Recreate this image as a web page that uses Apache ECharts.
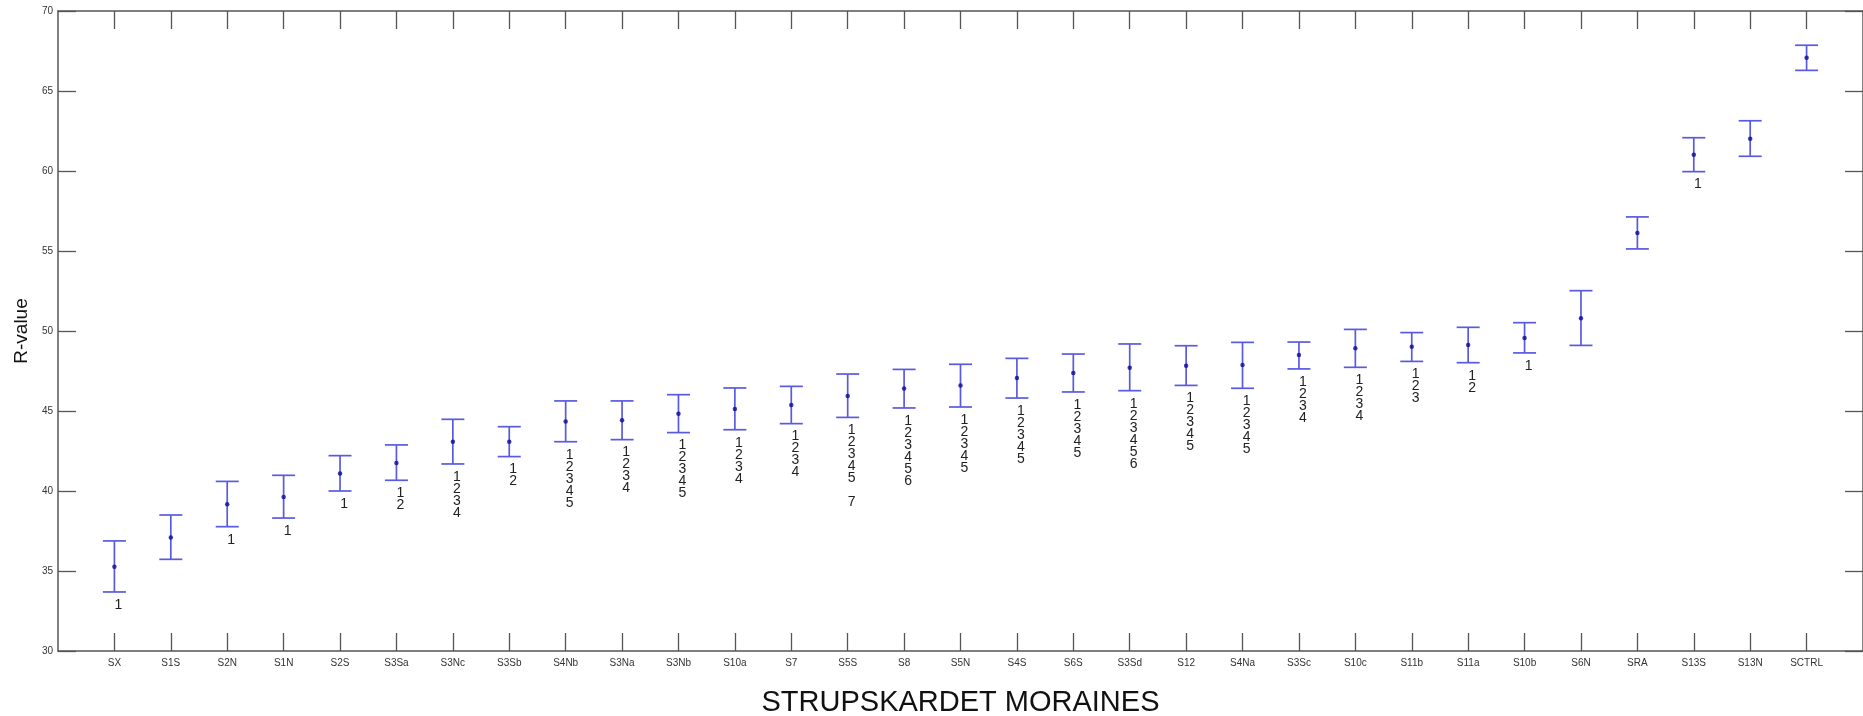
<!DOCTYPE html>
<html>
<head>
<meta charset="utf-8">
<script src="https://cdn.jsdelivr.net/npm/echarts@6/dist/echarts.min.js"></script>
<style>
html,body{margin:0;padding:0;background:#fff;}
#chart{width:1863px;height:716px;}
</style>
</head>
<body>
<div id="chart"></div>
<script>
const categories = ['SX','S1S','S2N','S1N','S2S','S3Sa','S3Nc','S3Sb','S4Nb','S3Na','S3Nb','S10a','S7','S5S','S8','S5N','S4S','S6S','S3Sd','S12','S4Na','S3Sc','S10c','S11b','S11a','S10b','S6N','SRA','S13S','S13N','SCTRL'];
const means = [35.27,37.10,39.17,39.63,41.10,41.75,43.08,43.08,44.35,44.42,44.83,45.13,45.38,45.94,46.40,46.60,47.06,47.38,47.71,47.83,47.88,48.50,48.92,49.02,49.13,49.56,50.80,56.13,61.02,62.02,67.08];
const lows = [33.69,35.73,37.77,38.31,40.00,40.67,41.69,42.15,43.08,43.21,43.65,43.83,44.21,44.60,45.19,45.25,45.81,46.19,46.27,46.60,46.42,47.63,47.73,48.10,48.02,48.63,49.10,55.13,59.96,60.92,66.29];
const highs = [36.88,38.50,40.60,40.98,42.21,42.88,44.48,44.02,45.63,45.63,46.02,46.44,46.54,47.31,47.60,47.92,48.29,48.56,49.19,49.08,49.29,49.31,50.10,49.90,50.23,50.52,52.52,57.13,62.08,63.14,67.86];
const letters = ['1','','1','1','1','1\n2','1\n2\n3\n4','1\n2','1\n2\n3\n4\n5','1\n2\n3\n4','1\n2\n3\n4\n5','1\n2\n3\n4','1\n2\n3\n4','1\n2\n3\n4\n5\n\n7','1\n2\n3\n4\n5\n6','1\n2\n3\n4\n5','1\n2\n3\n4\n5','1\n2\n3\n4\n5','1\n2\n3\n4\n5\n6','1\n2\n3\n4\n5','1\n2\n3\n4\n5','1\n2\n3\n4','1\n2\n3\n4','1\n2\n3','1\n2','1','','','1','',''];
const yMin = 30, yMax = 70, yStep = 5;

const axisCats = [''].concat(categories, ['']);
const barColor = '#5a5ae0';
const axisColor = '#555';

const chart = echarts.init(document.getElementById('chart'), null, {renderer: 'canvas'});

const tickInterval = function (idx, val) { return val !== ''; };

chart.setOption({
  animation: false,
  backgroundColor: '#fff',
  grid: {left: 58, right: 0, top: 11, height: 640, containLabel: false, outerBoundsMode: 'none'},
  xAxis: [{
    type: 'category',
    data: axisCats,
    boundaryGap: false,
    position: 'bottom',
    axisLine: {show: true, lineStyle: {color: axisColor, width: 1.5}},
    axisTick: {show: true, inside: true, length: 18, interval: tickInterval, lineStyle: {color: axisColor, width: 1.3}},
    axisLabel: {interval: 0, margin: 7, fontSize: 10, color: '#333', fontFamily: 'Liberation Sans, Arial, sans-serif'},
    splitLine: {show: false},
    name: 'STRUPSKARDET MORAINES',
    nameLocation: 'middle',
    nameGap: 37,
    nameTextStyle: {fontSize: 29, color: '#111', fontFamily: 'Liberation Sans, Arial, sans-serif'}
  }, {
    type: 'category',
    data: axisCats,
    boundaryGap: false,
    position: 'top',
    axisLine: {show: true, lineStyle: {color: axisColor, width: 1.5}},
    axisTick: {show: true, inside: true, length: 18, interval: tickInterval, lineStyle: {color: axisColor, width: 1.3}},
    axisLabel: {show: false},
    splitLine: {show: false}
  }],
  yAxis: [{
    type: 'value',
    min: yMin, max: yMax, interval: yStep,
    position: 'left',
    axisLine: {show: true, lineStyle: {color: axisColor, width: 1.5}},
    axisTick: {show: true, inside: true, length: 18, lineStyle: {color: axisColor, width: 1.3}},
    axisLabel: {margin: 5, fontSize: 10, color: '#333', fontFamily: 'Liberation Sans, Arial, sans-serif'},
    splitLine: {show: false},
    name: 'R-value',
    nameLocation: 'middle',
    nameGap: 23,
    nameTextStyle: {fontSize: 19, color: '#111', fontFamily: 'Liberation Sans, Arial, sans-serif'}
  }, {
    type: 'value',
    min: yMin, max: yMax, interval: yStep,
    position: 'right',
    axisLine: {show: true, lineStyle: {color: axisColor, width: 1.5}},
    axisTick: {show: true, inside: true, length: 18, lineStyle: {color: axisColor, width: 1.3}},
    axisLabel: {show: false},
    splitLine: {show: false}
  }],
  series: [{
    type: 'custom',
    xAxisIndex: 0, yAxisIndex: 0,
    data: categories.map((c, i) => [i + 1, lows[i], highs[i]]),
    encode: {x: 0, y: [1, 2]},
    renderItem: function (params, api) {
      const xi = api.value(0);
      const lo = api.coord([xi, api.value(1)]);
      const hi = api.coord([xi, api.value(2)]);
      const hw = 11.5;
      const style = {stroke: barColor, lineWidth: 1.7, fill: null};
      const children = [
        {type: 'line', shape: {x1: lo[0], y1: lo[1], x2: hi[0], y2: hi[1]}, style: style},
        {type: 'line', shape: {x1: lo[0] - hw, y1: lo[1], x2: lo[0] + hw, y2: lo[1]}, style: style},
        {type: 'line', shape: {x1: hi[0] - hw, y1: hi[1], x2: hi[0] + hw, y2: hi[1]}, style: style}
      ];
      const txt = letters[params.dataIndex];
      if (txt) {
        children.push({
          type: 'text',
          style: {
            text: txt, x: lo[0] + 4, y: lo[1] + 7,
            align: 'center', verticalAlign: 'top',
            fontSize: 14, lineHeight: 12, fill: '#222',
            fontFamily: 'Liberation Sans, Arial, sans-serif'
          }
        });
      }
      return {type: 'group', children: children};
    }
  }, {
    type: 'scatter',
    xAxisIndex: 0, yAxisIndex: 0,
    data: means.map((m, i) => [i + 1, m]),
    symbol: 'circle',
    symbolSize: 4.5,
    itemStyle: {color: '#0a0a9a'},
    z: 5
  }]
});
</script>
</body>
</html>
